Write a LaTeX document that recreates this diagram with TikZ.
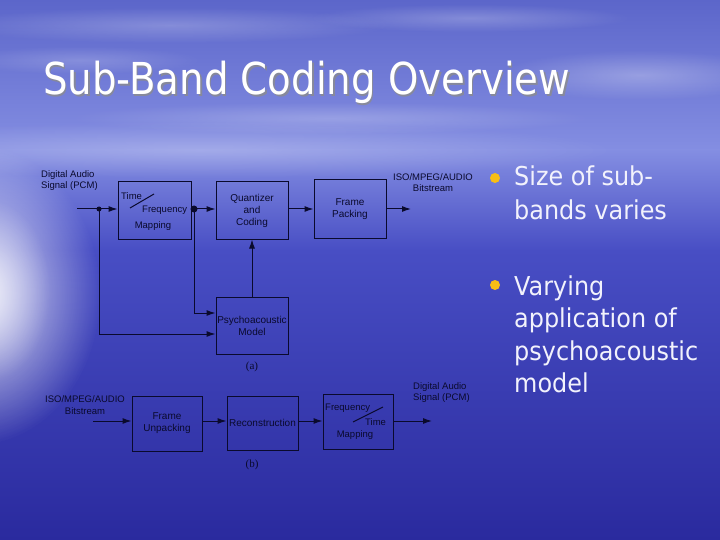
\documentclass[tikz,border=0pt]{standalone}
\usepackage{graphicx}
\usepackage{fontspec}
\setmainfont{Liberation Sans}
\newfontfamily\titlefont{DejaVu Sans}
\newfontfamily\capfont{Liberation Serif}
\usetikzlibrary{arrows.meta,fadings}
\definecolor{ink}{RGB}{10,10,45}
\definecolor{skytop}{RGB}{92,102,202}
\definecolor{horizon}{RGB}{132,142,226}
\definecolor{sea}{RGB}{72,78,196}
\definecolor{deep}{RGB}{42,42,158}
\definecolor{bulletyellow}{RGB}{248,190,20}
\definecolor{bullettext}{RGB}{242,242,252}
\tikzfading[name=glowfade, inner color=transparent!0, outer color=transparent!100]
\tikzset{
  box/.style={draw=ink, line width=1pt, inner sep=0pt, text=ink, align=center,
    font=\fontsize{10}{12}\selectfont},
  lbl/.style={text=ink, inner sep=0pt, font=\fontsize{9.5}{11.5}\selectfont},
  arr/.style={draw=ink, line width=1pt, -{Latex[length=9pt,width=6pt]}},
  bul/.style={anchor=base west, inner sep=0pt, text=bullettext,
    font=\titlefont\fontsize{26}{30}\selectfont},
}
\begin{document}
\begin{tikzpicture}[x=1pt,y=-1pt]
\useasboundingbox (0,0) rectangle (720,540);
% background
\shade[top color=skytop, bottom color=horizon] (0,0) rectangle (720,150.5);
\shade[top color=horizon, bottom color=sea] (0,150) rectangle (720,250.5);
\shade[top color=sea, bottom color=deep] (0,250) rectangle (720,540);
\fill[white, path fading=glowfade, opacity=0.9] (-25,295) ellipse (125 and 150);
\fill[white, path fading=glowfade, opacity=0.5] (-10,290) ellipse (60 and 90);
\fill[white, path fading=glowfade, opacity=0.25] (200,150) ellipse (420 and 28);
\fill[white, path fading=glowfade, opacity=0.22] (170,25) ellipse (220 and 18);
\fill[white, path fading=glowfade, opacity=0.22] (470,18) ellipse (160 and 14);
\fill[white, path fading=glowfade, opacity=0.28] (640,75) ellipse (140 and 25);
\fill[white, path fading=glowfade, opacity=0.22] (330,118) ellipse (260 and 16);
\fill[white, path fading=glowfade, opacity=0.18] (80,60) ellipse (120 and 14);

% title
\node[anchor=base west, inner sep=0pt, text=black!45, opacity=0.8] (titleshadow) at (44.5,96.5)
  {\resizebox{527pt}{\height}{\titlefont\fontsize{44}{50}\selectfont Sub-Band Coding Overview}};
\node[anchor=base west, inner sep=0pt, text=white] (title) at (43,95)
  {\resizebox{527pt}{\height}{\titlefont\fontsize{44}{50}\selectfont Sub-Band Coding Overview}};

% bullets
\fill[bulletyellow] (495,178) circle (5);
\fill[bulletyellow] (495,285) circle (5);
\node[bul] (b1a) at (514,186) {\scalebox{0.92}[1]{Size of sub-}};
\node[bul] (b1b) at (514,220) {\scalebox{0.92}[1]{bands varies}};
\node[bul] (b2a) at (514,295) {\scalebox{0.92}[1]{Varying}};
\node[bul] (b2b) at (514,327.5) {\scalebox{0.92}[1]{application of}};
\node[bul] (b2c) at (514,360) {\scalebox{0.92}[1]{psychoacoustic}};
\node[bul] (b2d) at (514,392.5) {\scalebox{0.92}[1]{model}};

% diagram (a)
\node[box, minimum width=73pt, minimum height=57pt] (tf) at (154.5,210.5) {};
\node[box, minimum width=72pt, minimum height=57pt] (qc) at (252,210.5) {Quantizer\\and\\Coding};
\node[box, minimum width=72pt, minimum height=58pt] (fp) at (350,209) {Frame\\Packing};
\node[box, minimum width=72pt, minimum height=57pt] (pm) at (252,325.5) {Psychoacoustic\\Model};
\node[lbl, anchor=west] (tfa) at (121,196) {Time};
\node[lbl, anchor=west] (tfb) at (142,210) {Frequency};
\node[lbl] (tfc) at (153,226) {Mapping};
\draw[ink, line width=1pt] (130,208) -- (154,194);

\node[lbl, align=left, anchor=north west] (inlabel) at (41,170) {Digital Audio\\Signal (PCM)};
\node[lbl, align=center] (outlabel) at (433,182.5) {ISO/MPEG/AUDIO\\Bitstream};

\coordinate (in) at (77,209);
\coordinate (d1) at (99,209);
\coordinate (d2) at (194,209);
\coordinate (out) at (411,209);
\coordinate (l1) at (99,334);
\coordinate (l2) at (194,313);
\draw[arr] (in) -- (in -| tf.west);
\draw[arr] (in -| tf.east) -- (in -| qc.west);
\draw[arr] (in -| qc.east) -- (in -| fp.west);
\draw[arr] (in -| fp.east) -- (out);
\draw[arr] (d1) -- (l1) -- (l1 -| pm.west);
\draw[arr] (d2) -- (l2) -- (l2 -| pm.west);
\draw[arr] (pm.north) -- (qc.south);
\fill[ink] (d1) circle (2.5);
\fill[ink] (d2) circle (3.5);
\node[text=ink, inner sep=0pt, font=\capfont\fontsize{11}{13}\selectfont] (capa) at (252,367) {(a)};

% diagram (b)
\node[box, minimum width=70pt, minimum height=55pt] (fu) at (167,423.5) {Frame\\Unpacking};
\node[box, minimum width=71pt, minimum height=54pt] (rc) at (262.5,423) {Reconstruction};
\node[box, minimum width=70pt, minimum height=55pt] (ft) at (358,421.5) {};
\node[lbl, anchor=west] (fta) at (325,408) {Frequency};
\node[lbl, anchor=west] (ftb) at (365,422) {Time};
\node[lbl] (ftc) at (355,435) {Mapping};
\draw[ink, line width=1pt] (353,422) -- (383,407);

\node[lbl, align=center] (binlabel) at (85,405) {ISO/MPEG/AUDIO\\Bitstream};
\node[lbl, align=left, anchor=north west] (boutlabel) at (413,382) {Digital Audio\\Signal (PCM)};

\coordinate (bin) at (93,421);
\coordinate (bout) at (432,421);
\draw[arr] (bin) -- (bin -| fu.west);
\draw[arr] (bin -| fu.east) -- (bin -| rc.west);
\draw[arr] (bin -| rc.east) -- (bin -| ft.west);
\draw[arr] (bin -| ft.east) -- (bout);
\node[text=ink, inner sep=0pt, font=\capfont\fontsize{11}{13}\selectfont] (capb) at (252,465) {(b)};
\end{tikzpicture}
\end{document}
